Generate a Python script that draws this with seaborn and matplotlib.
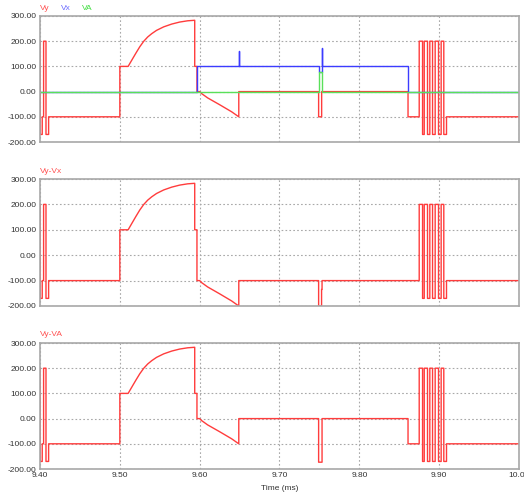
import matplotlib
matplotlib.use("Agg")
import matplotlib.pyplot as plt
import numpy as np
import pandas as pd
import seaborn as sns

# step points (time in ms, value in V)
START_T = [9.4003, 9.4003, 9.4028, 9.4028, 9.4045, 9.4045, 9.4075, 9.4075, 9.4108, 9.4108]
START_V = [200, -170, -170, -100, -100, 200, 200, -170, -170, -100]

RISE_T = [9.5104, 9.515, 9.520, 9.525, 9.530, 9.535, 9.540, 9.546, 9.555, 9.565, 9.575, 9.585, 9.5938]
RISE_V = [100, 125, 152, 178, 200, 217, 230, 243, 257, 268, 276, 281, 283]

FALL_T = [9.600, 9.6025, 9.610, 9.625, 9.640, 9.649]
FALL_V = [0, -8, -25, -52, -80, -100]

BURST_T = [9.875, 9.875, 9.8792, 9.8792, 9.8813, 9.8813, 9.8854, 9.8854, 9.8883, 9.8883,
           9.8917, 9.8917, 9.895, 9.895, 9.8992, 9.8992, 9.9025, 9.9025, 9.9058, 9.9058,
           9.9092, 9.9092, 10.0]
BURST_V = [-100, 200, 200, -170, -170, 200, 200, -170, -170, 200,
           200, -170, -170, 200, 200, -170, -170, 200, 200, -170,
           -170, -100, -100]

VX_T = [9.400, 9.5966, 9.5966, 9.649, 9.649, 9.6495, 9.6495, 9.749, 9.749, 9.7533,
        9.7533, 9.7538, 9.7538, 9.861, 9.861, 10.0]
VX_V = [0, 0, 100, 100, 161, 161, 100, 100, 77, 77, 172, 172, 100, 100, 0, 0]

VA_T = [9.400, 9.749, 9.749, 9.7528, 9.7528, 10.0]
VA_V = [0, 0, 77, 77, 0, 0]

# middle pieces of each trace
VY_MID_T = [9.500, 9.500] + RISE_T + [9.5938, 9.5966, 9.5966] + FALL_T + \
    [9.649, 9.749, 9.749, 9.7528, 9.7528, 9.861, 9.861]
VY_MID_V = [-100, 100] + RISE_V + [100, 100, 0] + FALL_V + [0, 0, -100, -100, 0, 0, -100]

VYX_MID_T = [9.500, 9.500] + RISE_T + [9.5938, 9.5966, 9.5966] + FALL_T + \
    [9.649, 9.749, 9.749, 9.7527, 9.7527, 9.7533, 9.7533]
VYX_MID_V = [-100, 100] + RISE_V + [100, 100, -100] + [v - 100 for v in FALL_V] + \
    [-100, -100, -200, -200, -135, -135, -100]

VYA_MID_T = [9.500, 9.500] + RISE_T + [9.5938, 9.5966, 9.5966] + FALL_T + \
    [9.649, 9.749, 9.749, 9.7533, 9.7533, 9.861, 9.861]
VYA_MID_V = [-100, 100] + RISE_V + [100, 100, 0] + FALL_V + [0, 0, -173, -173, 0, 0, -100]

RED = "#ff3c3c"
BLUE = "#3c3cff"
GREEN = "#5ae05a"
GRID = "#a8a8a8"
TXT = "#333333"
FONT = "Liberation Sans"


def trace(t, v):
    return pd.DataFrame({"t": t, "v": v})


def style_axis(ax, show_x):
    ax.set_xlim(9.4, 10.0)
    ax.set_ylim(-200, 300)
    ax.set_xticks(np.arange(9.4, 10.001, 0.1))
    ax.set_yticks(np.arange(-200, 301, 100))
    ax.set_yticklabels([f"{y:.2f}" for y in range(-200, 301, 100)], fontsize=6, family=FONT, color=TXT)
    if show_x:
        ax.set_xticklabels([f"{x:.2f}" for x in np.arange(9.4, 10.001, 0.1)],
                           fontsize=6, family=FONT, color=TXT)
    else:
        ax.set_xticklabels([])
    ax.tick_params(length=0, pad=2.5)
    ax.grid(True, color=GRID, linestyle=(0, (1.5, 2)), linewidth=0.8)
    for s in ax.spines.values():
        s.set_color(GRID)
        s.set_linewidth(1.2)
    ax.set_xlabel("")
    ax.set_ylabel("")


sns.set_style("white")
fig = plt.figure(figsize=(5.24, 4.93), dpi=100)
left, width = 40 / 524, 479 / 524
ax1 = fig.add_axes([left, 1 - 142 / 493, width, 126 / 493])
ax2 = fig.add_axes([left, 1 - 306 / 493, width, 127 / 493])
ax3 = fig.add_axes([left, 1 - 469 / 493, width, 126 / 493])

vy = trace(START_T + VY_MID_T + BURST_T, START_V + VY_MID_V + BURST_V)
vyx = trace(START_T + VYX_MID_T + BURST_T, START_V + VYX_MID_V + BURST_V)
vya = trace(START_T + VYA_MID_T + BURST_T, START_V + VYA_MID_V + BURST_V)

kw = dict(x="t", y="v", sort=False, estimator=None, linewidth=1.0)
sns.lineplot(data=vy, ax=ax1, color=RED, **kw)
sns.lineplot(data=trace(VX_T, VX_V), ax=ax1, color=BLUE, **kw)
sns.lineplot(data=trace(VA_T, VA_V), ax=ax1, color=GREEN, **kw)
sns.lineplot(data=vyx, ax=ax2, color=RED, **kw)
sns.lineplot(data=vya, ax=ax3, color=RED, **kw)

style_axis(ax1, False)
style_axis(ax2, False)
style_axis(ax3, True)

fig.text(40 / 524, 1 - 8 / 493, "Vy", color="#ff5050", fontsize=6, family=FONT, va="center")
fig.text(61 / 524, 1 - 8 / 493, "Vx", color="#6a6aff", fontsize=6, family=FONT, va="center")
fig.text(82 / 524, 1 - 8 / 493, "VA", color="#40dd40", fontsize=6, family=FONT, va="center")
fig.text(40 / 524, 1 - 172 / 493, "Vy-Vx", color="#ff5050", fontsize=6, family=FONT, va="center")
fig.text(40 / 524, 1 - 335 / 493, "Vy-VA", color="#ff5050", fontsize=6, family=FONT, va="center")
fig.text(280 / 524, 1 - 489 / 493, "Time (ms)", color=TXT, fontsize=6, family=FONT,
         ha="center", va="center")

plt.savefig("out.png", dpi=100)
